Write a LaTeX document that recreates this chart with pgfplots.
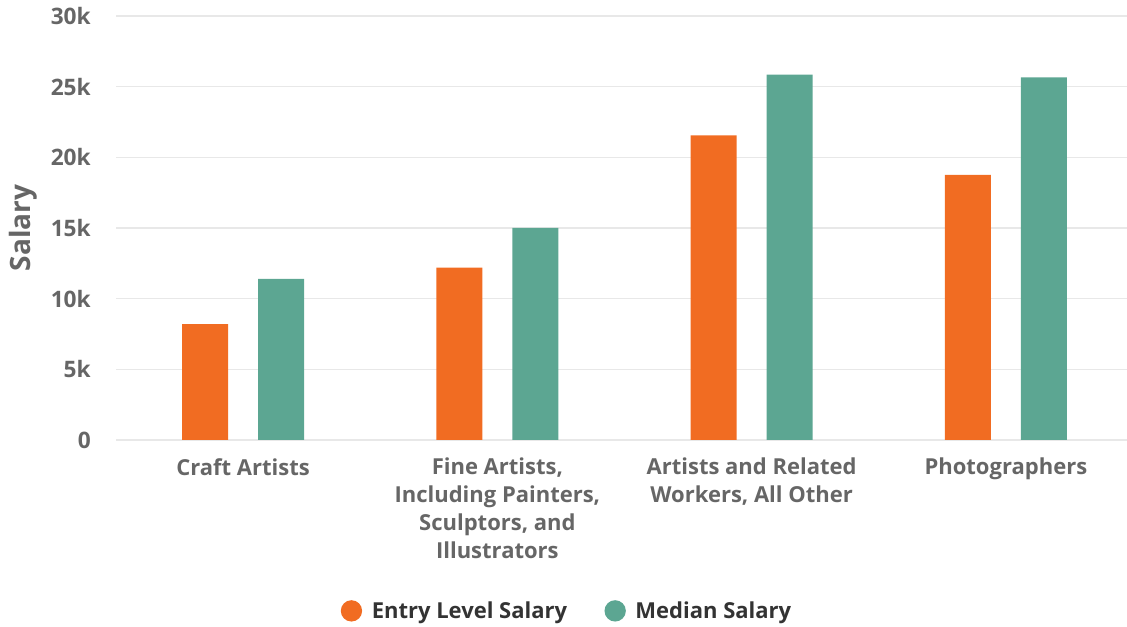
\documentclass[border=0pt]{standalone}
\usepackage{pgfplots}
\pgfplotsset{compat=1.18}
\usepackage{fontspec}
\setmainfont{Open Sans}
\IfFontExistsTF{Open Sans SemiBold}
  {\newfontfamily\semi{Open Sans SemiBold}}
  {\newcommand\semi{\bfseries}}
\definecolor{entry}{RGB}{241,108,34}
\definecolor{median}{RGB}{92,166,146}
\definecolor{gridc}{RGB}{232,232,232}
\definecolor{ticktext}{RGB}{102,102,102}
\definecolor{legtext}{RGB}{51,51,51}

\begin{document}
\begin{tikzpicture}[x=1pt,y=1pt]
% 1 px of the reference = 0.75pt
\useasboundingbox (-87,-140.25) rectangle (758.25,330);
\begin{axis}[
    at={(0,0)}, anchor=south west,
    scale only axis,
    width=762.75pt, height=318pt,
    xmin=-0.5, xmax=3.5,
    ymin=0, ymax=30000,
    ybar, bar width=34.5pt,
    axis line style={draw=none},
    major tick length=0pt,
    ymajorgrids, grid style={gridc, line width=0.9pt},
    ytick={0,5000,10000,15000,20000,25000,30000},
    yticklabels={0,5k,10k,15k,20k,25k,30k},
    scaled y ticks=false,
    yticklabel style={font=\fontsize{17}{18}\selectfont\semi, text=ticktext,
        anchor=east, inner sep=0pt, xshift=-18.75pt},
    xtick={0,1,2,3},
    xticklabels={Craft Artists,
        {Fine Artists,\\Including Painters,\\Sculptors, and\\Illustrators},
        {Artists and Related\\Workers, All Other},
        Photographers},
    xticklabel style={font=\fontsize{16.5}{21}\selectfont\semi, text=ticktext,
        align=center, anchor=north, inner sep=0pt, yshift=-13.5pt},
    ylabel={Salary},
    ylabel style={at={(axis description cs:-0.091,0.5)}, anchor=center,
        font=\fontsize{21}{24}\selectfont\bfseries, text=ticktext},
    legend image code/.code={\fill[#1] (0pt,0pt) circle (8pt);},
    legend style={at={(axis description cs:0.4438,-0.403)}, anchor=center,
        draw=none, fill=none, legend columns=2,
        font=\fontsize{16.5}{18}\selectfont\bfseries, text=legtext,
        /tikz/every odd column/.append style={column sep=5.25pt},
        /tikz/every even column/.append style={column sep=26pt}},
    legend cell align=left,
]
\addplot[fill=entry, draw=none, bar shift=-28.5pt, forget plot] coordinates {
    (0,8200) (1,12200) (2,21550) (3,18750)
};
\addplot[fill=median, draw=none, bar shift=28.5pt, forget plot] coordinates {
    (0,11400) (1,15000) (2,25850) (3,25650)
};
\addlegendimage{fill=entry, draw=none}
\addlegendentry{Entry Level Salary}
\addlegendimage{fill=median, draw=none}
\addlegendentry{Median Salary}
\end{axis}
\end{tikzpicture}
\end{document}
